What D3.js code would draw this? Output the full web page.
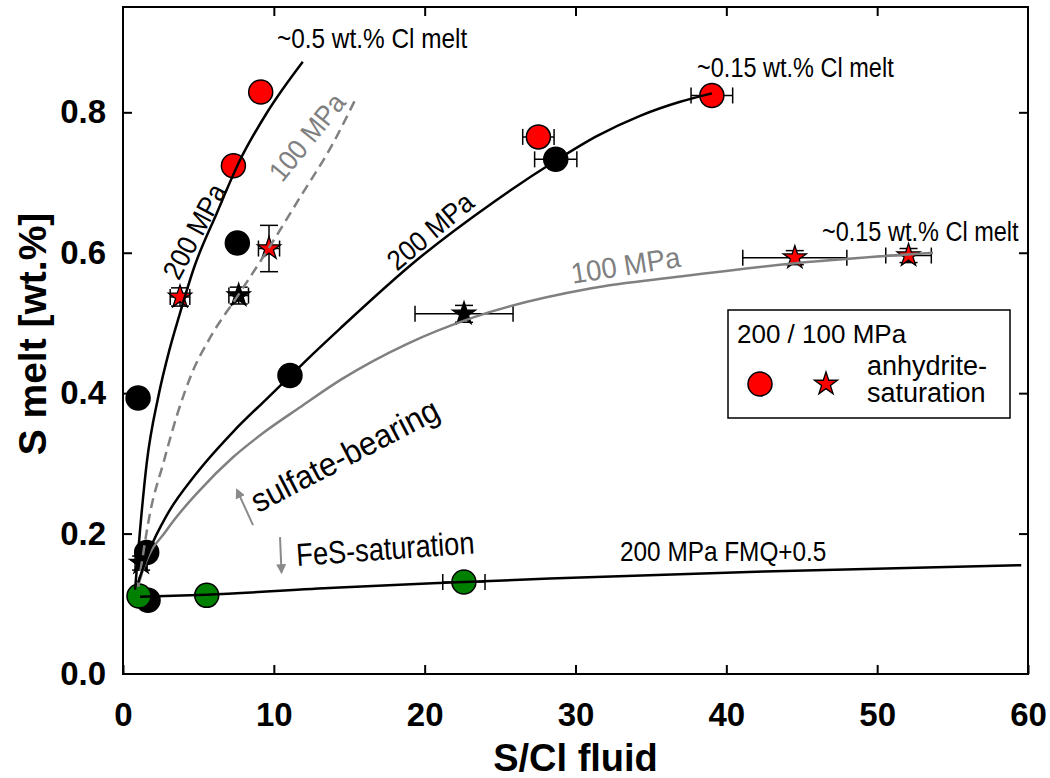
<!DOCTYPE html>
<html>
<head>
<meta charset="utf-8">
<script src="https://cdn.jsdelivr.net/npm/d3@7"></script>
<style>
  body { margin: 0; background: #fff; }
  svg { display: block; background: #fff; }
</style>
</head>
<body>
<svg id="chart" width="1050" height="778"></svg>
<script>
const xTicks = [0, 10, 20, 30, 40, 50, 60];
const yTicks = [0, 0.2, 0.4, 0.6, 0.8];

// 200 MPa, anhydrite saturated
const redCircles = [
  { x: 9.13, y: 0.829 },
  { x: 7.32, y: 0.724 },
  { x: 27.54, y: 0.765, xe: 1.04 },
  { x: 39.04, y: 0.824, xe: 1.38 }
];
// 100 MPa, anhydrite saturated
const redStars = [
  { x: 3.78, y: 0.537, xe: 0.65, ye: 0.013 },
  { x: 9.68, y: 0.606, xe: 0.7, ye: 0.033 },
  { x: 44.54, y: 0.593, xe: 3.45, ye: 0.01 },
  { x: 52.08, y: 0.596, xe: 1.51, ye: 0.01 }
];
// 200 MPa sulfate-bearing
const blackCircles = [
  { x: 7.58, y: 0.614 },
  { x: 1.0, y: 0.393 },
  { x: 11.07, y: 0.425 },
  { x: 28.69, y: 0.733, xe: 1.4, ye: 0.008 },
  { x: 1.57, y: 0.173 },
  { x: 1.66, y: 0.105 }
];
// 100 MPa sulfate-bearing
const blackStars = [
  { x: 7.67, y: 0.539, xe: 0.65, ye: 0.012 },
  { x: 22.61, y: 0.513, xe: 3.25, ye: 0.012 },
  { x: 1.2, y: 0.158, xe: 0.4, ye: 0.01 }
];
// FeS saturated (FMQ+0.5)
const greenCircles = [
  { x: 1.06, y: 0.111 },
  { x: 5.55, y: 0.112 },
  { x: 22.6, y: 0.131, xe: 1.4 }
];

// fitted trends
const curve200Cl05 = [[0.80, 0.120], [1.13, 0.205], [1.57, 0.300], [2.34, 0.395], [3.07, 0.461], [3.71, 0.509], [4.73, 0.580], [6.21, 0.656], [7.76, 0.732], [9.53, 0.799], [11.92, 0.872]];
const curve100Cl05 = [[1.0, 0.124], [1.24, 0.158], [1.79, 0.229], [2.67, 0.300], [3.6, 0.37], [4.6, 0.43], [5.8, 0.48], [7.65, 0.540], [9.53, 0.602], [11.74, 0.679], [13.93, 0.756], [15.49, 0.822]];
const curve200Cl015 = [[1.0, 0.13], [1.79, 0.178], [2.9, 0.226], [4.77, 0.283], [7.3, 0.345], [9.53, 0.392], [11.07, 0.424], [12.6, 0.456], [14.39, 0.492], [19.5, 0.590], [24.56, 0.672], [28.76, 0.732], [31.41, 0.766], [34.28, 0.795], [36.94, 0.815], [39.04, 0.827]];
const curve100Cl015 = [[1.0, 0.125], [1.35, 0.150], [2.9, 0.205], [5.1, 0.262], [7.31, 0.309], [9.53, 0.347], [11.74, 0.380], [14.5, 0.420], [18.81, 0.470], [23.23, 0.508], [30.97, 0.549], [36.94, 0.566], [44.56, 0.585], [53.7, 0.600]];
const curveFeS = [[1.13, 0.110], [5.55, 0.113], [14, 0.123], [22.6, 0.131], [28.3, 0.136], [42.5, 0.146], [59.55, 0.155]];

const plotLeft = 123, plotRight = 1028, plotTop = 7, plotBottom = 674;
const svg = d3.select('#chart');
const font = '"Liberation Sans", Arial, sans-serif';

const x = d3.scaleLinear().domain([0, 60]).range([plotLeft, plotRight]);
const y = d3.scaleLinear().domain([0, 0.95]).range([plotBottom, plotTop]);

// arrow head
svg.append('defs').append('marker')
  .attr('id', 'head')
  .attr('viewBox', '0 0 10 10')
  .attr('refX', 8).attr('refY', 5)
  .attr('markerWidth', 5).attr('markerHeight', 5)
  .attr('orient', 'auto')
  .append('path').attr('d', 'M0,0 L10,5 L0,10 z').attr('fill', '#8a8a8a');

// axes
function styleAxis(g) {
  g.select('.domain').remove();
  g.selectAll('.tick line').attr('stroke', '#000').attr('stroke-width', 2);
  g.selectAll('text').attr('font-family', font).attr('font-weight', 'bold')
    .attr('font-size', 33).attr('fill', '#000');
}

svg.append('g').attr('transform', `translate(0,${plotBottom})`)
  .call(d3.axisBottom(x).tickValues(xTicks).tickSize(-9).tickFormat(d3.format('d')))
  .call(styleAxis)
  .call(g => g.selectAll('text').attr('dy', null).attr('y', 52));

svg.append('g').attr('transform', `translate(0,${plotTop})`)
  .call(d3.axisTop(x).tickValues(xTicks.slice(1, -1)).tickSize(-9).tickFormat(''))
  .call(styleAxis);

svg.append('g').attr('transform', `translate(${plotLeft},0)`)
  .call(d3.axisLeft(y).tickValues(yTicks).tickSize(-9).tickPadding(17).tickFormat(d3.format('.1f')))
  .call(styleAxis)
  .call(g => g.selectAll('.tick').filter(d => d === 0).select('line').remove());

svg.append('g').attr('transform', `translate(${plotRight},0)`)
  .call(d3.axisRight(y).tickValues(yTicks.slice(1)).tickSize(-9).tickFormat(''))
  .call(styleAxis);

svg.append('rect')
  .attr('x', plotLeft).attr('y', plotTop)
  .attr('width', plotRight - plotLeft).attr('height', plotBottom - plotTop)
  .attr('fill', 'none').attr('stroke', '#000').attr('stroke-width', 2);

svg.append('text')
  .attr('x', (plotLeft + plotRight) / 2).attr('y', 771)
  .attr('text-anchor', 'middle')
  .attr('font-family', font).attr('font-weight', 'bold').attr('font-size', 38)
  .text('S/Cl fluid');

svg.append('text')
  .attr('transform', `translate(46,334) rotate(-90)`)
  .attr('text-anchor', 'middle')
  .attr('font-family', font).attr('font-weight', 'bold').attr('font-size', 39)
  .text('S melt [wt.%]');

// error bars
const bars = svg.append('g').attr('stroke', '#000').attr('stroke-width', 1.5);
function errorBars(data) {
  data.forEach(d => {
    if (d.xe) {
      const x0 = x(d.x - d.xe), x1 = x(d.x + d.xe), yy = y(d.y);
      bars.append('line').attr('x1', x0).attr('x2', x1).attr('y1', yy).attr('y2', yy);
      bars.append('line').attr('x1', x0).attr('x2', x0).attr('y1', yy - 8).attr('y2', yy + 8);
      bars.append('line').attr('x1', x1).attr('x2', x1).attr('y1', yy - 8).attr('y2', yy + 8);
    }
    if (d.ye) {
      const y0 = y(d.y - d.ye), y1 = y(d.y + d.ye), xx = x(d.x);
      bars.append('line').attr('x1', xx).attr('x2', xx).attr('y1', y0).attr('y2', y1);
      bars.append('line').attr('x1', xx - 9).attr('x2', xx + 9).attr('y1', y0).attr('y2', y0);
      bars.append('line').attr('x1', xx - 9).attr('x2', xx + 9).attr('y1', y1).attr('y2', y1);
    }
  });
}
[redCircles, redStars, blackCircles, blackStars, greenCircles].forEach(errorBars);

// markers
const star = d3.symbol().type(d3.symbolStar).size(165);

function circles(data, fill, stroke) {
  svg.append('g').selectAll('circle').data(data).join('circle')
    .attr('cx', d => x(d.x)).attr('cy', d => y(d.y)).attr('r', 12)
    .attr('fill', fill).attr('stroke', stroke).attr('stroke-width', 1.5);
}
function stars(data, fill) {
  svg.append('g').selectAll('path').data(data).join('path')
    .attr('d', star)
    .attr('transform', d => `translate(${x(d.x)},${y(d.y)})`)
    .attr('fill', fill).attr('stroke', '#000').attr('stroke-width', 1.3);
}

circles(blackCircles, '#000', '#000');
stars(blackStars, '#000');
circles(redCircles, '#ff0000', '#000');
stars(redStars, '#ff0000');
circles(greenCircles, '#008000', '#000');

// trend curves on top of the symbols
const line = d3.line().x(d => x(d[0])).y(d => y(d[1])).curve(d3.curveMonotoneX);
function trend(pts, color, dash) {
  svg.append('path').attr('d', line(pts))
    .attr('fill', 'none').attr('stroke', color).attr('stroke-width', 2.5)
    .attr('stroke-dasharray', dash || null);
}
trend(curve100Cl05, '#808080', '10,6');
trend(curve100Cl015, '#808080');
trend(curve200Cl05, '#000');
trend(curve200Cl015, '#000');
trend(curveFeS, '#000', null);

// labels
function label(px, py, angle, str, size, sx, color, anchor) {
  svg.append('text')
    .attr('transform', `translate(${x(px)},${y(py)}) rotate(${angle}) scale(${sx},1)`)
    .attr('text-anchor', anchor || 'start')
    .attr('font-family', font).attr('font-size', size)
    .attr('fill', color || '#000')
    .text(str);
}
label(10.21, 0.892, 0, '~0.5 wt.% Cl melt', 28, 0.87);
label(38.06, 0.850, 0, '~0.15 wt.% Cl melt', 28, 0.84);
label(46.34, 0.617, 0, '~0.15 wt.% Cl melt', 28, 0.84);
label(32.95, 0.161, 0, '200 MPa FMQ+0.5', 28, 0.87);
label(5.30, 0.624, -62, '200 MPa', 28, 0.92, '#000', 'middle');
label(12.70, 0.756, -51, '100 MPa', 28, 0.92, '#808080', 'middle');
label(20.78, 0.620, -40, '200 MPa', 28, 0.92, '#000', 'middle');
label(33.42, 0.568, -9, '100 MPa', 29, 0.95, '#808080', 'middle');
label(8.95, 0.229, -27.5, 'sulfate-bearing', 33, 0.95);
label(11.54, 0.154, -4, 'FeS-saturation', 32, 0.85);

// direction arrows
svg.append('line')
  .attr('x1', x(8.62)).attr('y1', y(0.212)).attr('x2', x(7.56)).attr('y2', y(0.262))
  .attr('stroke', '#8a8a8a').attr('stroke-width', 2).attr('marker-end', 'url(#head)');
svg.append('line')
  .attr('x1', x(10.41)).attr('y1', y(0.195)).attr('x2', x(10.51)).attr('y2', y(0.145))
  .attr('stroke', '#8a8a8a').attr('stroke-width', 2).attr('marker-end', 'url(#head)');

// legend
const lg = svg.append('g').attr('transform', 'translate(728,310)');
lg.append('rect').attr('width', 282).attr('height', 108)
  .attr('fill', '#fff').attr('stroke', '#000').attr('stroke-width', 1.5);
lg.append('text').attr('x', 9).attr('y', 33)
  .attr('font-family', font).attr('font-size', 26).text('200 / 100 MPa');
lg.append('circle').attr('cx', 32).attr('cy', 74).attr('r', 12)
  .attr('fill', '#ff0000').attr('stroke', '#000').attr('stroke-width', 1.5);
lg.append('path').attr('d', star).attr('transform', 'translate(98,74)')
  .attr('fill', '#ff0000').attr('stroke', '#000').attr('stroke-width', 1.3);
lg.append('text').attr('x', 139).attr('y', 65)
  .attr('font-family', font).attr('font-size', 27).text('anhydrite-');
lg.append('text').attr('x', 139).attr('y', 92)
  .attr('font-family', font).attr('font-size', 27).text('saturation');
</script>
</body>
</html>
